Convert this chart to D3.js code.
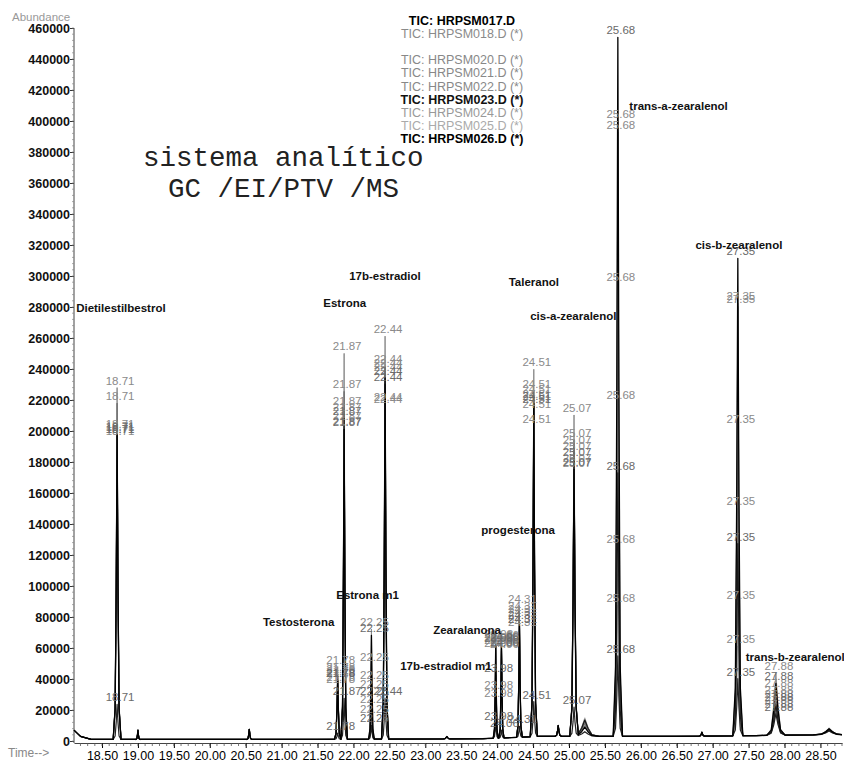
<!DOCTYPE html>
<html><head><meta charset="utf-8">
<script src="https://cdn.jsdelivr.net/npm/d3@7"></script>
<style>body{margin:0;background:#fff}svg{display:block}</style>
</head><body>
<svg id="c" width="844" height="765"></svg>
<script>
// ---------- data ----------
const fileNames = ["TIC: HRPSM017.D","TIC: HRPSM018.D (*)","TIC: HRPSM020.D (*)","TIC: HRPSM021.D (*)",
  "TIC: HRPSM022.D (*)","TIC: HRPSM023.D (*)","TIC: HRPSM024.D (*)","TIC: HRPSM025.D (*)","TIC: HRPSM026.D (*)"];
const legendRow = [0, 1, 3, 4, 5, 6, 7, 8, 9];

const peakRT        = [18.71, 19.00, 20.55, 21.78, 21.87, 22.25, 22.44, 23.30, 23.98, 24.06, 24.31, 24.51, 24.85, 25.07, 25.22, 25.68, 26.85, 27.35, 27.88, 28.62];
const peakHalfWidth = [0.055, 0.03, 0.035, 0.045, 0.045, 0.04, 0.05, 0.05, 0.035, 0.035, 0.04, 0.05, 0.045, 0.06, 0.2, 0.065, 0.04, 0.07, 0.13, 0.22];
const peakLabeled   = [1, 0, 0, 1, 1, 1, 1, 0, 1, 1, 1, 1, 0, 1, 0, 1, 0, 1, 1, 0];

const h017 = [196000, 6000, 6500, 38000, 200000, 67000, 233000, 1500, 60000, 60500, 72000, 215000, 7000, 172000, 6000, 451000, 2500, 308000, 33500, 3500];
const h018 = [227000, 6000, 6500, 47000, 249000, 71000, 260000, 1500, 63000, 62000, 84500, 237000, 7000, 207000, 7000, 397000, 2500, 279000, 40000, 4500];
const h020 = [217000, 6000, 6500, 42000, 224500, 48400, 240600, 1500, 61000, 61000, 80000, 223000, 7000, 191000, 8000, 390000, 2500, 277000, 29000, 4000];
const h021 = [199000, 6000, 6500, 40600, 213500, 36800, 238000, 1500, 59000, 59500, 78000, 220000, 7000, 186500, 9000, 292000, 2500, 200000, 25000, 3000];
const h022 = [198000, 6000, 6500, 39400, 210000, 31000, 235500, 1500, 57000, 58500, 76000, 216800, 7000, 182600, 10000, 216000, 2500, 147000, 22000, 3500];
const h023 = [197000, 6000, 6500, 38100, 207000, 26500, 229000, 1500, 40600, 57500, 74000, 213500, 7000, 178700, 10500, 170000, 2500, 124000, 20000, 4000];
const h024 = [195500, 6000, 6500, 35500, 204000, 21300, 216000, 1500, 29700, 56500, 72000, 210000, 7000, 174800, 11000, 123000, 2500, 86000, 18000, 3000];
const h025 = [194200, 6000, 6500, 34200, 200600, 14800, 214800, 1500, 24500, 56000, 70000, 200600, 7000, 171000, 12000, 84500, 2500, 58000, 16000, 2500];
const h026 = [22600, 6000, 6500, 4000, 26500, 9000, 26500, 1500, 10000, 5000, 7000, 22600, 7000, 18700, 3000, 52000, 2500, 36800, 14000, 2500];

const baseTimes  = [18.11, 18.2, 18.35, 21.5, 23.8, 24.6, 25.5, 26.5, 27.6, 28.4, 28.8];
const baseLevels = [7000, 3000, 1000, 1000, 1500, 3000, 3000, 3000, 3500, 4000, 4000];

const yTickValues = d3.range(0, 460001, 20000);
const xTickValues = d3.range(18.5, 28.51, 0.5);

const compoundNames  = ["Dietilestilbestrol","Estrona","17b-estradiol","Taleranol","cis-a-zearalenol","trans-a-zearalenol",
  "cis-b-zearalenol","progesterona","Estrona m1","Testosterona","Zearalanona","17b-estradiol m1","trans-b-zearalenol"];
const compoundTimes  = [18.14, 21.58, 21.94, 24.16, 24.46, 25.84, 26.76, 23.78, 21.76, 20.74, 23.11, 22.65, 27.46];
const compoundLevels = [276800, 280000, 297400, 293600, 271600, 407100, 317400, 133600, 91600, 74200, 69000, 45800, 51600];

// ---------- styling ----------
const traces = [h017, h018, h020, h021, h022, h023, h024, h025, h026];
const traceColor = ["#000", "#8c8c8c", "#707070", "#6a6a6a", "#777", "#1a1a1a", "#888", "#aaa", "#222"];
const traceWidth = [1.3, 1, 1, 1, 1, 1.2, 1, 1, 1.2];
const legendColor = ["#000", "#8a8a8a", "#888", "#888", "#888", "#111", "#999", "#aaa", "#000"];
const legendWeight = ["bold", "normal", "normal", "normal", "normal", "bold", "normal", "normal", "bold"];
const drawOrder = [7, 6, 1, 4, 3, 2, 8, 5, 0];

const svg = d3.select("#c");
const FONT = "'Liberation Sans', Arial, sans-serif";

const x = d3.scaleLinear().domain([18.11, 28.80]).range([74, 842]);
const y = d3.scaleLinear().domain([0, 460000]).range([741, 28]);

// peak shape template
const profile = d3.scaleLinear().domain([-1, -0.5, -0.22, 0, 0.22, 0.5, 1]).range([0, 0.1, 0.5, 1, 0.5, 0.1, 0]).clamp(true);
const baseline = d3.scaleLinear().domain(baseTimes).range(baseLevels).clamp(true);

const sampleTimes = (() => {
  const s = new Set(baseTimes);
  peakRT.forEach((rt, i) => profile.domain().forEach(o => s.add(+(rt + o * peakHalfWidth[i]).toFixed(4))));
  return Array.from(s).filter(t => t >= 18.11 && t <= 28.8).sort((a, b) => a - b);
})();

function traceValue(h, t) {
  let v = baseline(t);
  peakRT.forEach((rt, i) => { v += h[i] * profile((t - rt) / peakHalfWidth[i]); });
  return v;
}

const line = d3.line().x(d => x(d[0])).y(d => y(d[1]));

// axes
const yAxis = svg.append("g").attr("transform", "translate(74,0)")
  .call(d3.axisLeft(y).tickValues(yTickValues).tickSize(4).tickSizeOuter(0).tickFormat(d3.format("d")));
yAxis.select(".domain").attr("d", "M0," + (y(0) + 2) + "V" + y(460000)).attr("stroke", "#444");
yAxis.selectAll("text").attr("font-family", FONT).attr("font-size", 12.5).attr("font-weight", "bold").attr("fill", "#111").attr("x", -4);
yAxis.selectAll(".tick line").attr("stroke", "#333");
svg.append("g").selectAll("line").data(d3.range(0, 460001, 4000)).join("line")
  .attr("x1", 72).attr("x2", 74).attr("y1", d => y(d)).attr("y2", d => y(d)).attr("stroke", "#888").attr("stroke-width", 0.7);

const xAxis = svg.append("g").attr("transform", "translate(0,743)")
  .call(d3.axisBottom(x).tickValues(xTickValues).tickSize(5).tickSizeOuter(0).tickFormat(d3.format(".2f")));
xAxis.select(".domain").attr("stroke", "#444");
xAxis.selectAll("text").attr("font-family", FONT).attr("font-size", 12.5).attr("fill", "#000").attr("y", 8);
svg.append("g").selectAll("line").data(d3.range(18.2, 28.8, 0.1)).join("line")
  .attr("x1", d => x(d)).attr("x2", d => x(d)).attr("y1", 743).attr("y2", 746).attr("stroke", "#555").attr("stroke-width", 0.8);

svg.append("text").attr("x", 12).attr("y", 21).attr("font-family", FONT).attr("font-size", 11.5).attr("fill", "#999").text("Abundance");
svg.append("text").attr("x", 8).attr("y", 757).attr("font-family", FONT).attr("font-size", 12).attr("fill", "#888").text("Time-->");

// traces
drawOrder.forEach(k => {
  const h = traces[k];
  svg.append("path").datum(sampleTimes.map(t => [t, traceValue(h, t)]))
    .attr("d", line).attr("fill", "none").attr("stroke", traceColor[k]).attr("stroke-width", traceWidth[k])
    .attr("stroke-linejoin", "round");
});

// retention-time labels
const fmt = d3.format(".2f");
drawOrder.forEach(k => {
  const h = traces[k];
  svg.append("g").selectAll("text").data(peakRT.map((rt, i) => ({rt, i})).filter(d => peakLabeled[d.i]))
    .join("text")
    .attr("x", d => x(d.rt) + 3).attr("y", d => y(traceValue(h, d.rt)) - 3)
    .attr("text-anchor", "middle").attr("font-family", FONT).attr("font-size", 11.5)
    .attr("fill", (k === 0 || k === 5 || k === 8) ? "#6a6a6a" : "#8a8a8a")
    .text(d => fmt(d.rt));
});

// compound names
svg.append("g").selectAll("text").data(compoundNames).join("text")
  .attr("x", (d, i) => x(compoundTimes[i])).attr("y", (d, i) => y(compoundLevels[i]))
  .attr("font-family", FONT).attr("font-size", 11.5).attr("font-weight", "bold").attr("fill", "#111")
  .text(d => d);

// legend
svg.append("g").selectAll("text").data(fileNames).join("text")
  .attr("x", 462).attr("y", (d, i) => 25 + legendRow[i] * 13.1)
  .attr("text-anchor", "middle").attr("font-family", FONT).attr("font-size", 12.5)
  .attr("font-weight", (d, i) => legendWeight[i]).attr("fill", (d, i) => legendColor[i])
  .text(d => d);

// title
svg.append("text").attr("x", 143).attr("y", 166).attr("font-family", "'Liberation Mono', 'Courier New', monospace")
  .attr("font-size", 27.5).attr("fill", "#222").text("sistema analítico");
svg.append("text").attr("x", 168).attr("y", 197).attr("font-family", "'Liberation Mono', 'Courier New', monospace")
  .attr("font-size", 27.5).attr("fill", "#222").text("GC /EI/PTV /MS");
</script>
</body></html>
